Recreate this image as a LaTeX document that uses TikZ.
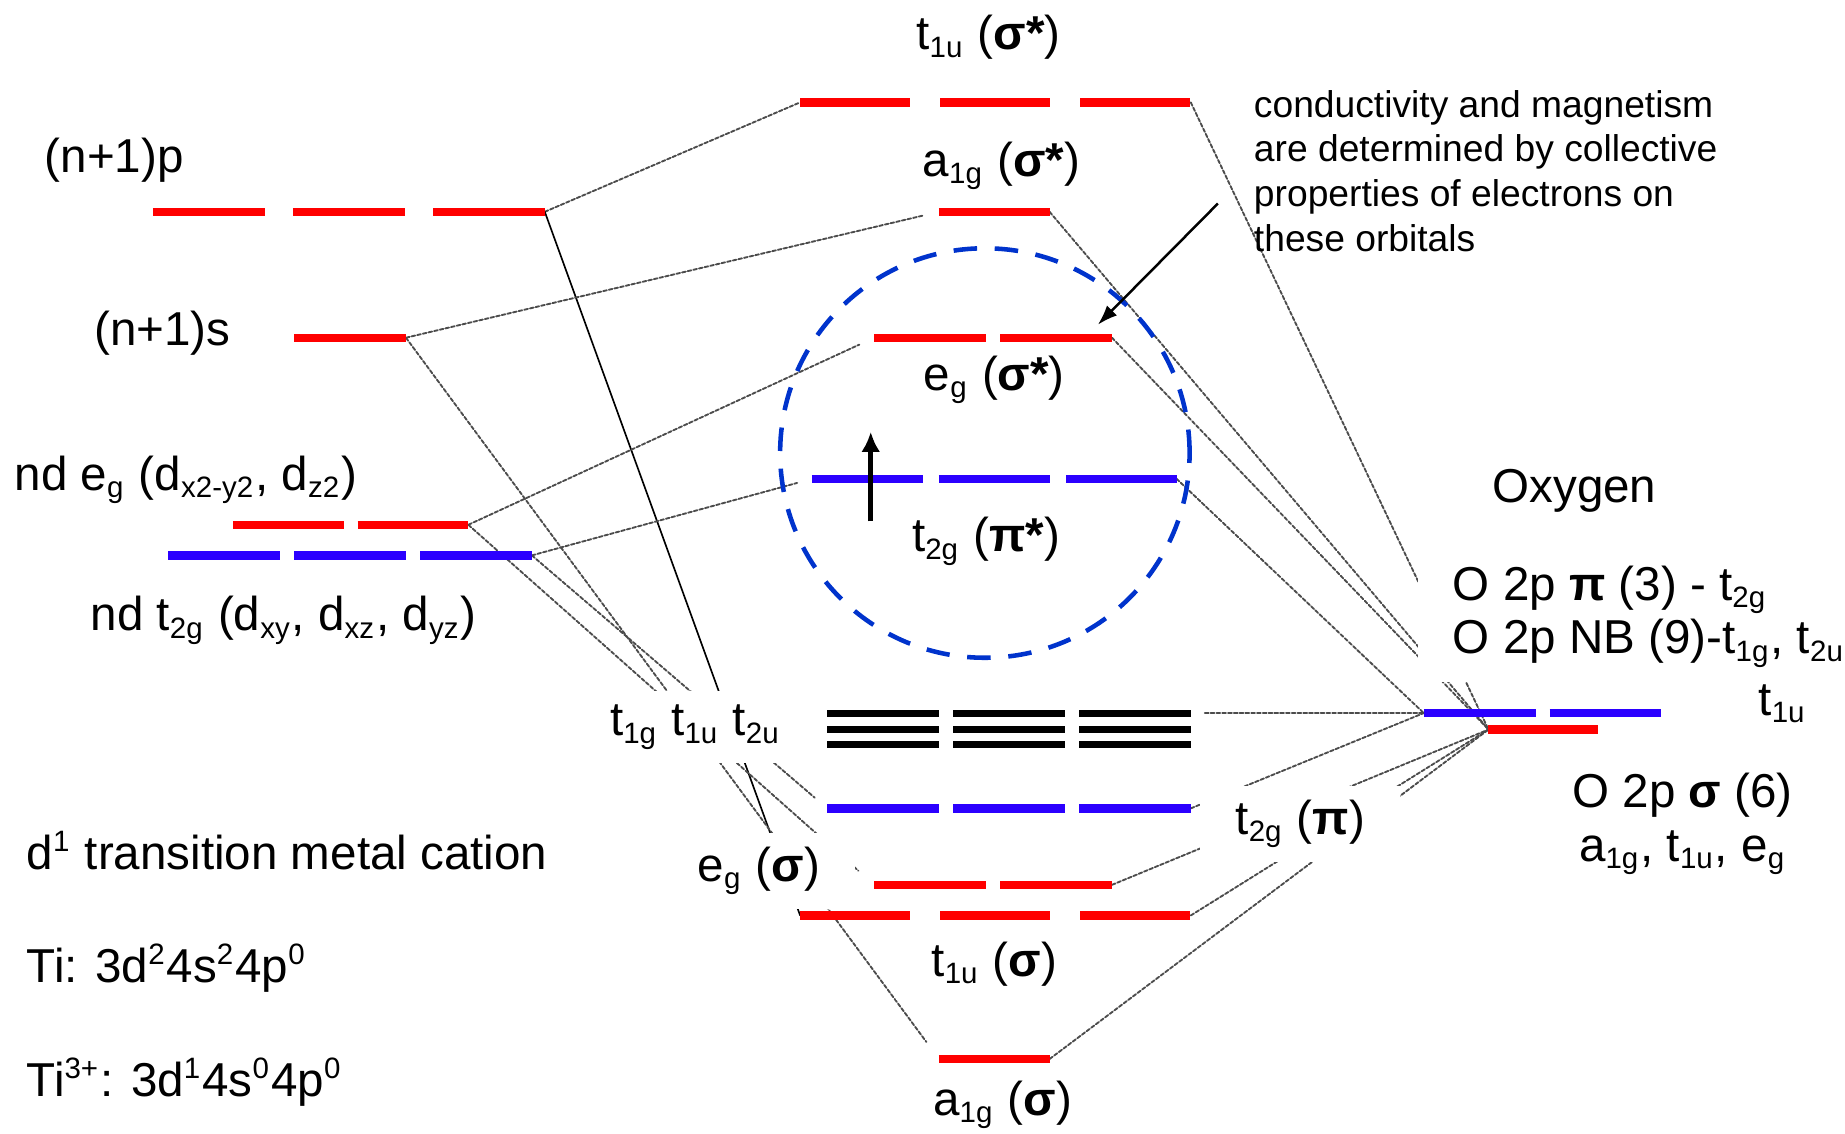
\documentclass[tikz,border=0pt]{standalone}
\usepackage{fontspec}
\setmainfont{Liberation Sans}
\usetikzlibrary{arrows.meta,calc}
\usepackage{tkz-euclide}
\renewcommand{\defaultscriptratio}{.62}
\definecolor{LevelRed}{rgb}{1,0,0}
\definecolor{LevelBlue}{rgb}{0.17,0,1}
\definecolor{CircleClr}{rgb}{0,0.2,0.8}
\tikzset{lvl/.style={line width=2pt,line cap=butt},
  nbl/.style={line width=1.7pt,line cap=butt,color=black},
  orbline/.style={line width=0.45pt,color=black!70,dash pattern=on 0.9pt off 0.5pt},
  lbl/.style={font=\fontsize{11.5}{13}\selectfont,fill=white,inner xsep=0.3cm,inner ysep=0.12cm,anchor=center},
  txt/.style={font=\fontsize{11.5}{13}\selectfont,inner sep=0pt,anchor=west}}

\begin{document}
\begin{tikzpicture}
\useasboundingbox (0,0) rectangle (15.68,9.63);
\tkzSetUpLine[line width=0.45pt,color=black]

\tkzDefPoints{1.30/7.83/pL,4.63/7.83/pR,2.50/6.76/sL,3.45/6.76/sR}
\tkzDefPoints{1.98/5.17/eL,3.98/5.17/eR,1.43/4.91/tL,4.52/4.91/tR}
\tkzDefPoints{6.80/8.76/tuaL,10.12/8.76/tuaR,7.98/7.83/agaL,8.92/7.83/agaR}
\tkzDefPoints{7.43/6.76/egaL,9.45/6.76/egaR,6.90/5.56/tgaL,10.00/5.56/tgaR}
\tkzDefPoints{7.03/3.57/nbaL,10.12/3.57/nbaR,7.03/3.43/nbbL,10.12/3.43/nbbR,7.03/3.30/nbcL,10.12/3.30/nbcR}
\tkzDefPoints{7.03/2.76/tgbL,10.12/2.76/tgbR,7.43/2.11/egbL,9.45/2.11/egbR}
\tkzDefPoints{6.80/1.85/tubL,10.12/1.85/tubR,7.98/0.63/agbL,8.92/0.63/agbR}
\tkzDefPoints{12.10/3.57/piL,14.12/3.57/piR,12.65/3.43/sgL,13.58/3.43/sgR}
\tkzDefPoints{8.37/5.78/C,10.11/5.78/Cr,7.40/5.20/eD,7.40/5.96/eU,10.35/7.90/aS,9.33/6.87/aE}

\tkzDefPoints{8.40/9.31/Ltua,8.51/8.22/Laga,8.45/6.40/Lega,8.38/5.03/Ltga,5.91/3.45/Lnb}
\tkzDefPoints{11.05/2.63/Ltgb,6.45/2.23/Legb,8.45/1.44/Ltub,8.52/0.24/Lagb}
\tkzDefPoints{0.97/8.27/Lp,1.38/6.80/Ls,1.58/5.55/Le,2.41/4.36/Lt}
\tkzDefPoints{0.22/2.40/Ldone,0.22/1.40/Lti,0.22/0.43/Ltiion}
\tkzDefPoints{13.38/5.46/Loxy,12.04/4.39/Lonb,15.15/3.65/Lot,14.30/2.63/Los,10.65/8.87/Lnote}

% metal side
\tkzDrawSegment[orbline](pR,tuaL)
\tkzDrawSegment[line width=0.4pt,color=black](pR,tubL)
\tkzDrawSegment[orbline,shorten >=0.13cm](sR,agaL)
\tkzDrawSegment[orbline,shorten >=0.18cm](sR,agbL)
\tkzDrawSegment[orbline,shorten >=0.14cm](eR,egaL)
\tkzDrawSegment[orbline,shorten >=0.18cm](eR,egbL)
\tkzDrawSegment[orbline,shorten >=0.13cm](tR,tgaL)
\tkzDrawSegment[orbline,shorten >=0.14cm](tR,tgbL)
% oxygen side
\tkzDrawSegments[orbline](tuaR,sgL agaR,sgL egaR,sgL egbR,sgL tubR,sgL agbR,sgL)
\tkzDrawSegments[orbline](tgaR,piL tgbR,piL)
\tkzDrawSegment[orbline,shorten <=0.12cm](nbaR,piL)

\tkzLabelPoint[lbl](Ltua){t\textsubscript{1u} (\textbf{σ*})}
\tkzLabelPoint[lbl](Laga){a\textsubscript{1g} (\textbf{σ*})}
\tkzLabelPoint[lbl](Lega){e\textsubscript{g} (\textbf{σ*})}
\tkzLabelPoint[lbl](Ltga){t\textsubscript{2g} (\textbf{π*})}
\tkzLabelPoint[lbl](Lnb){t\textsubscript{1g} t\textsubscript{1u} t\textsubscript{2u}}
\tkzLabelPoint[lbl](Ltgb){t\textsubscript{2g} (\textbf{π})}
\tkzLabelPoint[lbl](Legb){e\textsubscript{g} (\textbf{σ})}
\tkzLabelPoint[lbl](Ltub){t\textsubscript{1u} (\textbf{σ})}
\tkzLabelPoint[lbl](Lagb){a\textsubscript{1g} (\textbf{σ})}
\tkzLabelPoint[lbl](Lp){(n+1)p}
\tkzLabelPoint[lbl](Ls){(n+1)s}
\tkzLabelPoint[lbl](Le){nd e\textsubscript{g} (d\textsubscript{x2-y2}, d\textsubscript{z2})}
\tkzLabelPoint[lbl](Lt){nd t\textsubscript{2g} (d\textsubscript{xy}, d\textsubscript{xz}, d\textsubscript{yz})}
\tkzLabelPoint[lbl](Loxy){Oxygen}
\tkzLabelPoint[lbl,anchor=west,align=left](Lonb){O 2p \textbf{π} (3) - t\textsubscript{2g}\\O 2p NB (9)-t\textsubscript{1g}, t\textsubscript{2u}}
\tkzLabelPoint[lbl](Lot){t\textsubscript{1u}}
\tkzLabelPoint[lbl,align=center](Los){O 2p \textbf{σ} (6)\\a\textsubscript{1g}, t\textsubscript{1u}, e\textsubscript{g}}
\tkzLabelPoint[txt](Ldone){d\textsuperscript{1} transition metal cation}
\tkzLabelPoint[txt](Lti){Ti: 3d\textsuperscript{2}4s\textsuperscript{2}4p\textsuperscript{0}}
\tkzLabelPoint[txt](Ltiion){Ti\textsuperscript{3+}: 3d\textsuperscript{1}4s\textsuperscript{0}4p\textsuperscript{0}}
\tkzLabelPoint[inner sep=0pt,anchor=north west,align=left,font=\fontsize{9}{10.8}\selectfont](Lnote){conductivity and magnetism\\are determined by collective\\properties of electrons on\\these orbitals}

\tkzDrawSegment[lvl,color=LevelRed,dash pattern=on 0.93cm off 0.26cm](tuaL,tuaR)
\tkzDrawSegment[lvl,color=LevelRed](agaL,agaR)
\tkzDrawSegment[lvl,color=LevelRed,dash pattern=on 0.95cm off 0.24cm](pL,pR)
\tkzDrawSegment[lvl,color=LevelRed](sL,sR)
\tkzDrawSegment[lvl,color=LevelRed,dash pattern=on 0.95cm off 0.12cm](egaL,egaR)
\tkzDrawSegment[lvl,color=LevelRed,dash pattern=on 0.94cm off 0.12cm](eL,eR)
\tkzDrawSegment[lvl,color=LevelBlue,dash pattern=on 0.95cm off 0.12cm](tL,tR)
\tkzDrawSegment[lvl,color=LevelBlue,dash pattern=on 0.94cm off 0.14cm](tgaL,tgaR)
\tkzDrawSegments[nbl,dash pattern=on 0.95cm off 0.12cm](nbaL,nbaR nbbL,nbbR nbcL,nbcR)
\tkzDrawSegment[lvl,color=LevelBlue,dash pattern=on 0.95cm off 0.12cm](tgbL,tgbR)
\tkzDrawSegment[lvl,color=LevelRed,dash pattern=on 0.95cm off 0.12cm](egbL,egbR)
\tkzDrawSegment[lvl,color=LevelRed,dash pattern=on 0.93cm off 0.26cm](tubL,tubR)
\tkzDrawSegment[lvl,color=LevelRed](agbL,agbR)
\tkzDrawSegment[lvl,color=LevelBlue,dash pattern=on 0.95cm off 0.12cm](piL,piR)
\tkzDrawSegment[lvl,color=LevelRed](sgL,sgR)

\tkzDrawCircle[color=CircleClr,line width=1.1pt,dash pattern=on 0.2cm off 0.15cm](C,Cr)
\draw[line width=1.3pt,-{Latex[length=0.17cm,width=0.16cm]}] (eD) -- (eU);
\draw[line width=0.6pt,-{Latex[length=0.17cm,width=0.12cm]}] (aS) -- (aE);

\end{tikzpicture}
\end{document}
